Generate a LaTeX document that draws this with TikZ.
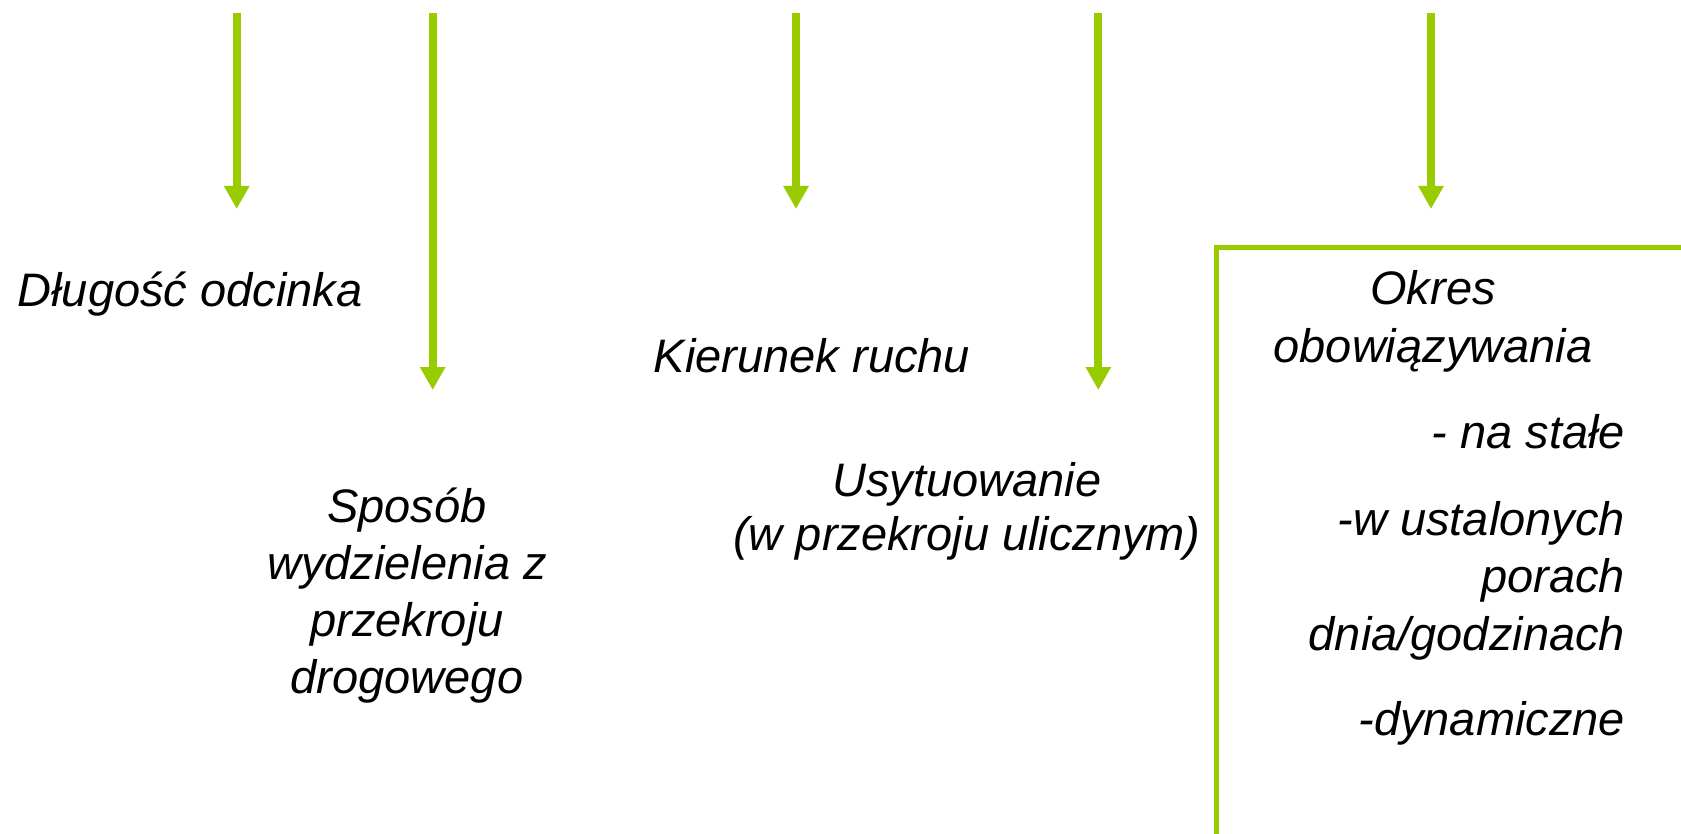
\documentclass[tikz,border=0pt]{standalone}
\usepackage{fontspec}
\setmainfont{Liberation Sans}
\usetikzlibrary{arrows.meta}
\definecolor{lime}{RGB}{153,204,0}
\tikzset{
  lbl/.style={inner sep=0pt, outer sep=0pt, font=\fontsize{47}{57}\selectfont\itshape},
  arr/.style={draw=lime, line width=8pt, -{Triangle[width=24pt,length=23pt]}},
  frame/.style={draw=lime, line width=5pt}
}
\begin{document}
\begin{tikzpicture}[x=1pt,y=-1pt]
\clip (0,0) rectangle (1681,834);
\fill[white] (0,0) rectangle (1681,834);

% arrows
\coordinate (s1) at (236.7,13);  \coordinate (e1) at (236.7,209);
\coordinate (s2) at (432.7,13);  \coordinate (e2) at (432.7,390);
\coordinate (s3) at (796,13);    \coordinate (e3) at (796,209);
\coordinate (s4) at (1098.3,13); \coordinate (e4) at (1098.3,390);
\coordinate (s5) at (1431,13);   \coordinate (e5) at (1431,209);
\draw[arr] (s1) -- (e1);
\draw[arr] (s2) -- (e2);
\draw[arr] (s3) -- (e3);
\draw[arr] (s4) -- (e4);
\draw[arr] (s5) -- (e5);

% frame
\coordinate (fbl) at (1216,860);
\coordinate (ftl) at (1216,248);
\coordinate (ftr) at (1700,248);
\draw[frame] (fbl) -- (ftl) -- (ftr);

% labels (multi-line nodes: base = baseline of last line)
\node[lbl, anchor=base] (dlugosc) at (190,306.7) {Długość odcinka};
\node[lbl, anchor=base, align=center] (sposob) at (407,693)
  {Sposób\\wydzielenia z\\przekroju\\drogowego};
\node[lbl, anchor=base] (kierunek) at (812,372) {Kierunek ruchu};
\node[lbl, anchor=base, align=center, font=\fontsize{47}{54}\selectfont\itshape] (usyt) at (967,550)
  {Usytuowanie\\(w przekroju ulicznym)};
\node[lbl, anchor=base, align=center, font=\fontsize{47}{58}\selectfont\itshape] (okres) at (1433,362)
  {Okres\\obowiązywania};
\node[lbl, anchor=base east] (stale) at (1625,448) {- na stałe};
\node[lbl, anchor=base east, align=right, font=\fontsize{47}{57.5}\selectfont\itshape] (ustal) at (1625,650)
  {-w ustalonych\\porach\\dnia/godzinach};
\node[lbl, anchor=base east] (dyn) at (1625,735) {-dynamiczne};
\end{tikzpicture}
\end{document}
